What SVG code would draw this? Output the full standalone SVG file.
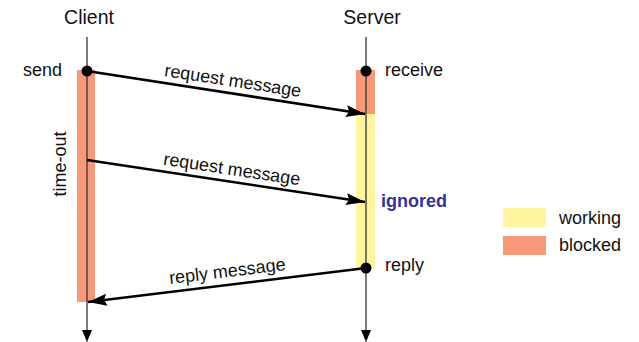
<svg xmlns="http://www.w3.org/2000/svg" width="639" height="342" viewBox="0 0 639 342">
  <style>
    text { font-family: "Liberation Sans", Arial, sans-serif; font-size: 18px; fill: #111; }
    .title { font-size: 19.5px; }
    .life { stroke: #333; stroke-width: 1.3; fill: none; }
    .msg { stroke: #000; stroke-width: 2.6; fill: none; }
    .blocked { fill: #F6997B; }
    .working { fill: #FFF59E; }
    .dot { fill: #000; }
    .ignored { font-weight: bold; fill: #333399; }
  </style>
  <defs>
    <marker id="head" markerUnits="userSpaceOnUse" markerWidth="22" markerHeight="14" refX="19" refY="6.5" orient="auto">
      <path d="M0,0.5 L19,6.5 L0,12.5 L3,6.5 z" fill="#000"/>
    </marker>
    <marker id="lifeEnd" markerUnits="userSpaceOnUse" markerWidth="10" markerHeight="14" refX="12" refY="5" orient="auto">
      <path d="M0,0 L12,5 L0,10 z" fill="#000"/>
    </marker>
  </defs>

  <!-- activity bars -->
  <g id="client-bar">
    <rect class="blocked" x="77" y="70" width="18" height="232"/>
  </g>
  <g id="server-bar">
    <rect class="blocked" x="356" y="70" width="19" height="44"/>
    <rect class="working" x="356" y="114" width="19" height="154"/>
  </g>

  <!-- lifelines -->
  <g id="client">
    <text class="title" x="89" y="24" text-anchor="middle">Client</text>
    <line class="life" x1="87" y1="37" x2="87" y2="342" marker-end="url(#lifeEnd)"/>
    <text x="23" y="76">send</text>
    <text x="0" y="0" transform="translate(66 164) rotate(-90)" text-anchor="middle">time-out</text>
  </g>
  <g id="server">
    <text class="title" x="372" y="24" text-anchor="middle">Server</text>
    <line class="life" x1="366" y1="37" x2="366" y2="342" marker-end="url(#lifeEnd)"/>
    <text x="385" y="76">receive</text>
    <text class="ignored" x="381" y="207">ignored</text>
    <text x="385" y="271">reply</text>
  </g>

  <!-- messages -->
  <g id="connectors">
    <line class="msg" x1="87" y1="71" x2="365" y2="114" marker-end="url(#head)"/>
    <line class="msg" x1="87" y1="160" x2="365" y2="202" marker-end="url(#head)"/>
    <line class="msg" x1="366" y1="268" x2="88" y2="302" marker-end="url(#head)"/>
    <circle class="dot" cx="87" cy="71" r="5.5"/>
    <circle class="dot" cx="366" cy="71" r="5.5"/>
    <circle class="dot" cx="366" cy="268" r="5.5"/>
    <text transform="translate(232 86.5) rotate(8.76)" text-anchor="middle">request message</text>
    <text transform="translate(231 175) rotate(8.56)" text-anchor="middle">request message</text>
    <text transform="translate(228 277) rotate(-6.95)" text-anchor="middle">reply message</text>
  </g>

  <!-- legend -->
  <g id="legend">
    <rect class="working" x="503" y="208" width="43" height="19"/>
    <text x="559" y="224">working</text>
    <rect class="blocked" x="503" y="236" width="43" height="19"/>
    <text x="559" y="251">blocked</text>
  </g>
</svg>
